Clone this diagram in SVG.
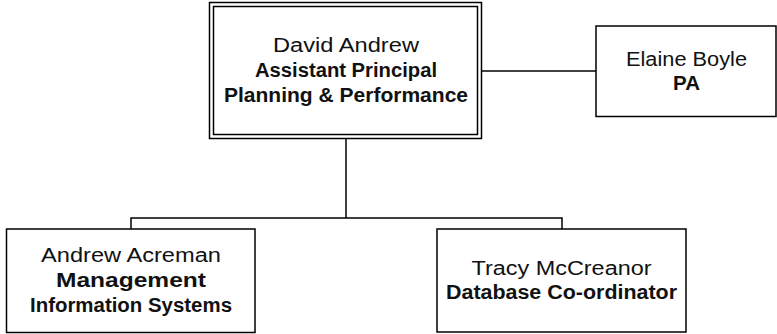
<svg xmlns="http://www.w3.org/2000/svg" width="777" height="334" viewBox="0 0 777 334">
<style>
.box{fill:#fff;stroke:#000;stroke-width:1.5}
.line{fill:none;stroke:#000;stroke-width:1.5}
text{font-family:"Liberation Sans",Arial,sans-serif;font-size:19.5px;fill:#111;text-anchor:middle}
.n{font-weight:normal}
.b{font-weight:bold}
</style>
<rect width="777" height="334" fill="#fff"/>
<g id="connectors">
<line class="line" x1="482" y1="71" x2="596" y2="71"/>
<line class="line" x1="346" y1="139" x2="346" y2="218"/>
<polyline class="line" points="131,229 131,218 562,218 562,229"/>
</g>
<g id="node-david">
<rect class="box" x="209.5" y="2.5" width="272" height="136"/>
<rect class="box" x="213.5" y="6.5" width="264" height="128"/>
<text class="n" x="346" y="52" textLength="146" lengthAdjust="spacingAndGlyphs">David Andrew</text>
<text class="b" x="346" y="77" textLength="182" lengthAdjust="spacingAndGlyphs">Assistant Principal</text>
<text class="b" x="346" y="102" textLength="244" lengthAdjust="spacingAndGlyphs">Planning &amp; Performance</text>
</g>
<g id="node-elaine">
<rect class="box" x="596" y="26" width="180" height="90.5"/>
<text class="n" x="686.5" y="66" textLength="121" lengthAdjust="spacingAndGlyphs">Elaine Boyle</text>
<text class="b" x="686.5" y="90" textLength="27" lengthAdjust="spacingAndGlyphs">PA</text>
</g>
<g id="node-andrew">
<rect class="box" x="6.5" y="229" width="248.5" height="103.5"/>
<text class="n" x="131" y="262" textLength="180" lengthAdjust="spacingAndGlyphs">Andrew Acreman</text>
<text class="b" x="131" y="287" textLength="150" lengthAdjust="spacingAndGlyphs">Management</text>
<text class="b" x="131" y="312" textLength="202" lengthAdjust="spacingAndGlyphs">Information Systems</text>
</g>
<g id="node-tracy">
<rect class="box" x="437" y="229" width="249" height="103"/>
<text class="n" x="561.5" y="275" textLength="180" lengthAdjust="spacingAndGlyphs">Tracy McCreanor</text>
<text class="b" x="561.5" y="299" textLength="231" lengthAdjust="spacingAndGlyphs">Database Co-ordinator</text>
</g>
</svg>
